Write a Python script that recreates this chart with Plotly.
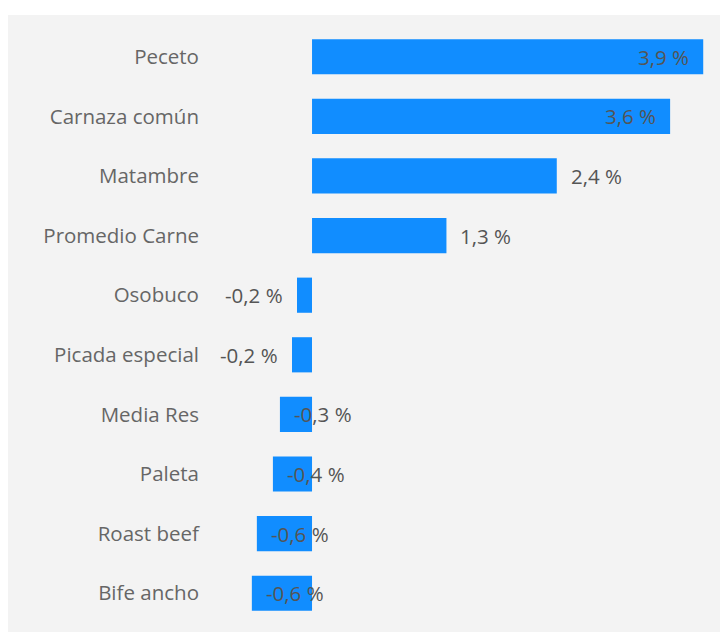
import plotly.graph_objects as go

# data
categorias = ["Peceto", "Carnaza común", "Matambre", "Promedio Carne", "Osobuco",
              "Picada especial", "Media Res", "Paleta", "Roast beef", "Bife ancho"]
variacion = [3.9, 3.57, 2.44, 1.34, -0.15, -0.2, -0.32, -0.39, -0.55, -0.6]
etiquetas = ["3,9 %", "3,6 %", "2,4 %", "1,3 %", "-0,2 %",
             "-0,2 %", "-0,3 %", "-0,4 %", "-0,6 %", "-0,6 %"]
# where Power BI drew each data label: inside end / outside end / overflowing
modo_etiqueta = ["in", "in", "out", "out", "out", "out", "over", "over", "over", "over"]

BAR_COLOR = "#118DFF"
PANEL = "#F3F3F3"
FONT = "Open Sans"
FS = 20.5

fig = go.Figure()
fig.add_trace(go.Bar(
    x=variacion, y=categorias, orientation="h",
    marker=dict(color=BAR_COLOR, line=dict(width=0)),
    hoverinfo="skip",
))

for cat, val, txt, modo in zip(categorias, variacion, etiquetas, modo_etiqueta):
    if modo == "in":
        anchor, shift = "right", -12
    elif modo == "out":
        anchor, shift = ("left", 12) if val > 0 else ("right", -12)
    else:
        anchor, shift = "left", 12
    fig.add_annotation(x=val, y=cat, text=txt, showarrow=False,
                       xanchor=anchor, xshift=shift,
                       font=dict(family=FONT, size=FS, color="#555555"))

# page body has an 8px margin, so the figure is a bit smaller than the window
fig.update_layout(
    width=720, height=627,
    margin=dict(l=0, r=0, t=7, b=3),
    paper_bgcolor="white",
    plot_bgcolor=PANEL,
    bargap=0.41,
    showlegend=False,
    font=dict(family=FONT, size=FS, color="#666666"),
    xaxis=dict(range=[-3.031, 4.147], visible=False, fixedrange=True),
    yaxis=dict(
        categoryorder="array", categoryarray=categorias,
        range=[9.65, -0.70],
        anchor="free", position=0.2708,
        showline=False, showgrid=False, zeroline=False,
        ticks="", ticklabelstandoff=4,
        tickfont=dict(family=FONT, size=FS, color="#666666"),
    ),
)

fig.write_html("out.html")
